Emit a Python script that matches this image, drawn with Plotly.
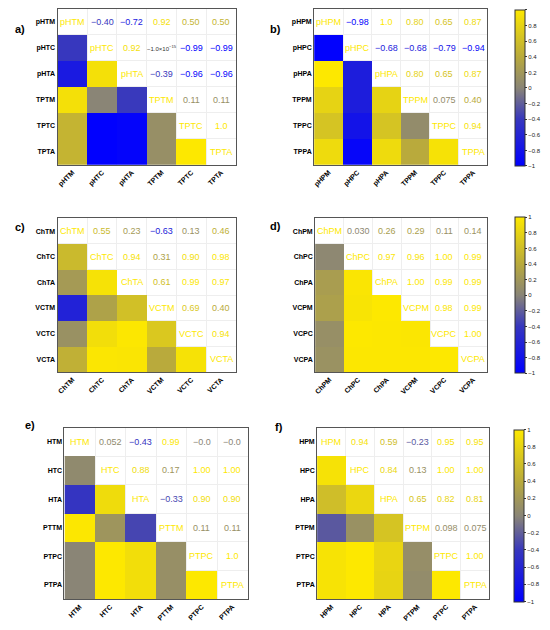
import numpy as np
import plotly.graph_objects as go
from plotly.colors import sample_colorscale

# page body keeps an 8px margin, so the figure is 16px smaller than the window
PAD = 8
W, H = 550 - 2 * PAD, 630 - 2 * PAD

# ===== Data: variable names and upper-triangle correlation values (row by row) =====
labels_a = ["pHTM", "pHTC", "pHTA", "TPTM", "TPTC", "TPTA"]
upper_a = [["-0.40", "-0.72", "0.92", "0.50", "0.50"],
           ["0.92", "-1.0e-15", "-0.99", "-0.99"],
           ["-0.39", "-0.96", "-0.96"],
           ["0.11", "0.11"],
           ["1.0"]]

labels_b = ["pHPM", "pHPC", "pHPA", "TPPM", "TPPC", "TPPA"]
upper_b = [["-0.98", "1.0", "0.80", "0.65", "0.87"],
           ["-0.68", "-0.68", "-0.79", "-0.94"],
           ["0.80", "0.65", "0.87"],
           ["0.075", "0.40"],
           ["0.94"]]

labels_c = ["ChTM", "ChTC", "ChTA", "VCTM", "VCTC", "VCTA"]
upper_c = [["0.55", "0.23", "-0.63", "0.13", "0.46"],
           ["0.94", "0.31", "0.90", "0.98"],
           ["0.61", "0.99", "0.97"],
           ["0.69", "0.40"],
           ["0.94"]]

labels_d = ["ChPM", "ChPC", "ChPA", "VCPM", "VCPC", "VCPA"]
upper_d = [["0.030", "0.26", "0.29", "0.11", "0.14"],
           ["0.97", "0.96", "1.00", "0.99"],
           ["1.00", "0.99", "0.99"],
           ["0.98", "0.99"],
           ["1.00"]]

labels_e = ["HTM", "HTC", "HTA", "PTTM", "PTPC", "PTPA"]
upper_e = [["0.052", "-0.43", "0.99", "-0.0", "-0.0"],
           ["0.88", "0.17", "1.00", "1.00"],
           ["-0.33", "0.90", "0.90"],
           ["0.11", "0.11"],
           ["1.0"]]

labels_f = ["HPM", "HPC", "HPA", "PTPM", "PTPC", "PTPA"]
upper_f = [["0.94", "0.59", "-0.23", "0.95", "0.95"],
           ["0.84", "0.13", "1.00", "1.00"],
           ["0.65", "0.82", "0.81"],
           ["0.098", "0.075"],
           ["1.00"]]

cbar_ticks = [-1, -0.8, -0.6, -0.4, -0.2, 0, 0.2, 0.4, 0.6, 0.8, 1]

# blue -> gray -> yellow
scale = [[0.0, "rgb(0,0,255)"], [0.3, "rgb(55,55,190)"], [0.5, "rgb(138,133,118)"],
         [0.7, "rgb(185,170,60)"], [1.0, "rgb(253,232,0)"]]

# tag, labels, values, box px (x0, x1, y0, y1), tag px, colorbar px (x, y0, y1) or None
panels = [
    ("a)", labels_a, upper_a, (57, 237, 8, 165), (12, 20), None),
    ("b)", labels_b, upper_b, (316, 491, 8, 165), (277, 20), (519, 9, 165)),
    ("c)", labels_c, upper_c, (57, 237, 219, 374), (12, 228), None),
    ("d)", labels_d, upper_d, (317, 491, 219, 374), (277, 227), (519, 218, 374)),
    ("e)", labels_e, upper_e, (64, 249, 430, 603), (22, 435), None),
    ("f)", labels_f, upper_f, (319, 493, 430, 603), (281, 437), (518, 432, 604)),
]


def px_x(p):
    return (p - PAD) / W


def px_y(p):
    return 1 - (p - PAD) / H


def col(v):
    return sample_colorscale(scale, [(v + 1) / 2])[0]


def show(s):
    if "e" in s:
        m, e = s.split("e")
        return m.replace("-", "\u2212") + "\u00d710<sup>" + e.replace("-", "\u2212") + "</sup>"
    return s.replace("-", "\u2212")


fig = go.Figure()
annotations = []
axes = {}

for k, (tag, labels, upper, box, tagpos, cb) in enumerate(panels):
    n = len(labels)
    suffix = "" if k == 0 else str(k + 1)
    xa, ya = "x" + suffix, "y" + suffix

    full = np.full((n, n), np.nan)
    for i, row in enumerate(upper):
        for j, s in enumerate(row):
            full[i, i + 1 + j] = float(s)
            full[i + 1 + j, i] = float(s)
    z = np.where(np.tril(np.ones((n, n)), -1) == 1, full, np.nan)

    hm = dict(z=z, x=list(range(n)), y=list(range(n)), colorscale=scale, zmin=-1, zmax=1,
              xaxis=xa, yaxis=ya, hoverongaps=False, showscale=cb is not None)
    if cb is not None:
        hm["colorbar"] = dict(
            x=px_x(cb[0]), xanchor="left", y=px_y(cb[1]), yanchor="top",
            len=cb[2] - cb[1], lenmode="pixels", thickness=10, thicknessmode="pixels",
            xpad=0, ypad=0, outlinewidth=1, outlinecolor="#333",
            tickvals=cbar_ticks, ticks="outside", ticklen=2, tickcolor="#333",
            tickfont=dict(size=6, color="#222", family="Liberation Sans"))
    fig.add_trace(go.Heatmap(**hm))

    # diagonal labels and upper-triangle numbers
    for i in range(n):
        annotations.append(dict(x=i, y=i, xref=xa, yref=ya, text=labels[i], showarrow=False,
                                font=dict(size=9, color=col(1.0), family="Liberation Sans")))
        for j, s in enumerate(upper[i] if i < len(upper) else []):
            v = float(s)
            small = "e" in s
            annotations.append(dict(x=i + 1 + j, y=i, xref=xa, yref=ya, text=show(s),
                                    showarrow=False,
                                    font=dict(size=6 if small else 9,
                                              color="#333" if small else col(v),
                                              family="Liberation Sans")))

    annotations.append(dict(x=px_x(tagpos[0]), y=px_y(tagpos[1]), xref="paper", yref="paper",
                            text="<b>" + tag + "</b>", showarrow=False,
                            font=dict(size=11, color="black", family="Liberation Sans")))

    common = dict(showline=True, mirror=True, linecolor="#555", linewidth=1, showgrid=False,
                  zeroline=False, ticks="", tickvals=list(range(n)), ticktext=labels,
                  tickfont=dict(size=7, color="black", family="Liberation Sans", weight="bold"),
                  minor=dict(tickvals=[i + 0.5 for i in range(n - 1)], showgrid=True,
                             gridcolor="#eeeeee", gridwidth=1))
    axes["xaxis" + suffix] = dict(domain=[px_x(box[0]), px_x(box[1])], anchor=ya,
                                  range=[-0.5, n - 0.5], tickangle=-45, **common)
    axes["yaxis" + suffix] = dict(domain=[px_y(box[3]), px_y(box[2])], anchor=xa,
                                  range=[n - 0.5, -0.5], **common)

fig.update_layout(
    width=W, height=H,
    margin=dict(l=0, r=0, t=0, b=0),
    paper_bgcolor="white", plot_bgcolor="white",
    showlegend=False,
    annotations=annotations,
    **axes
)

fig.write_html("out.html")
